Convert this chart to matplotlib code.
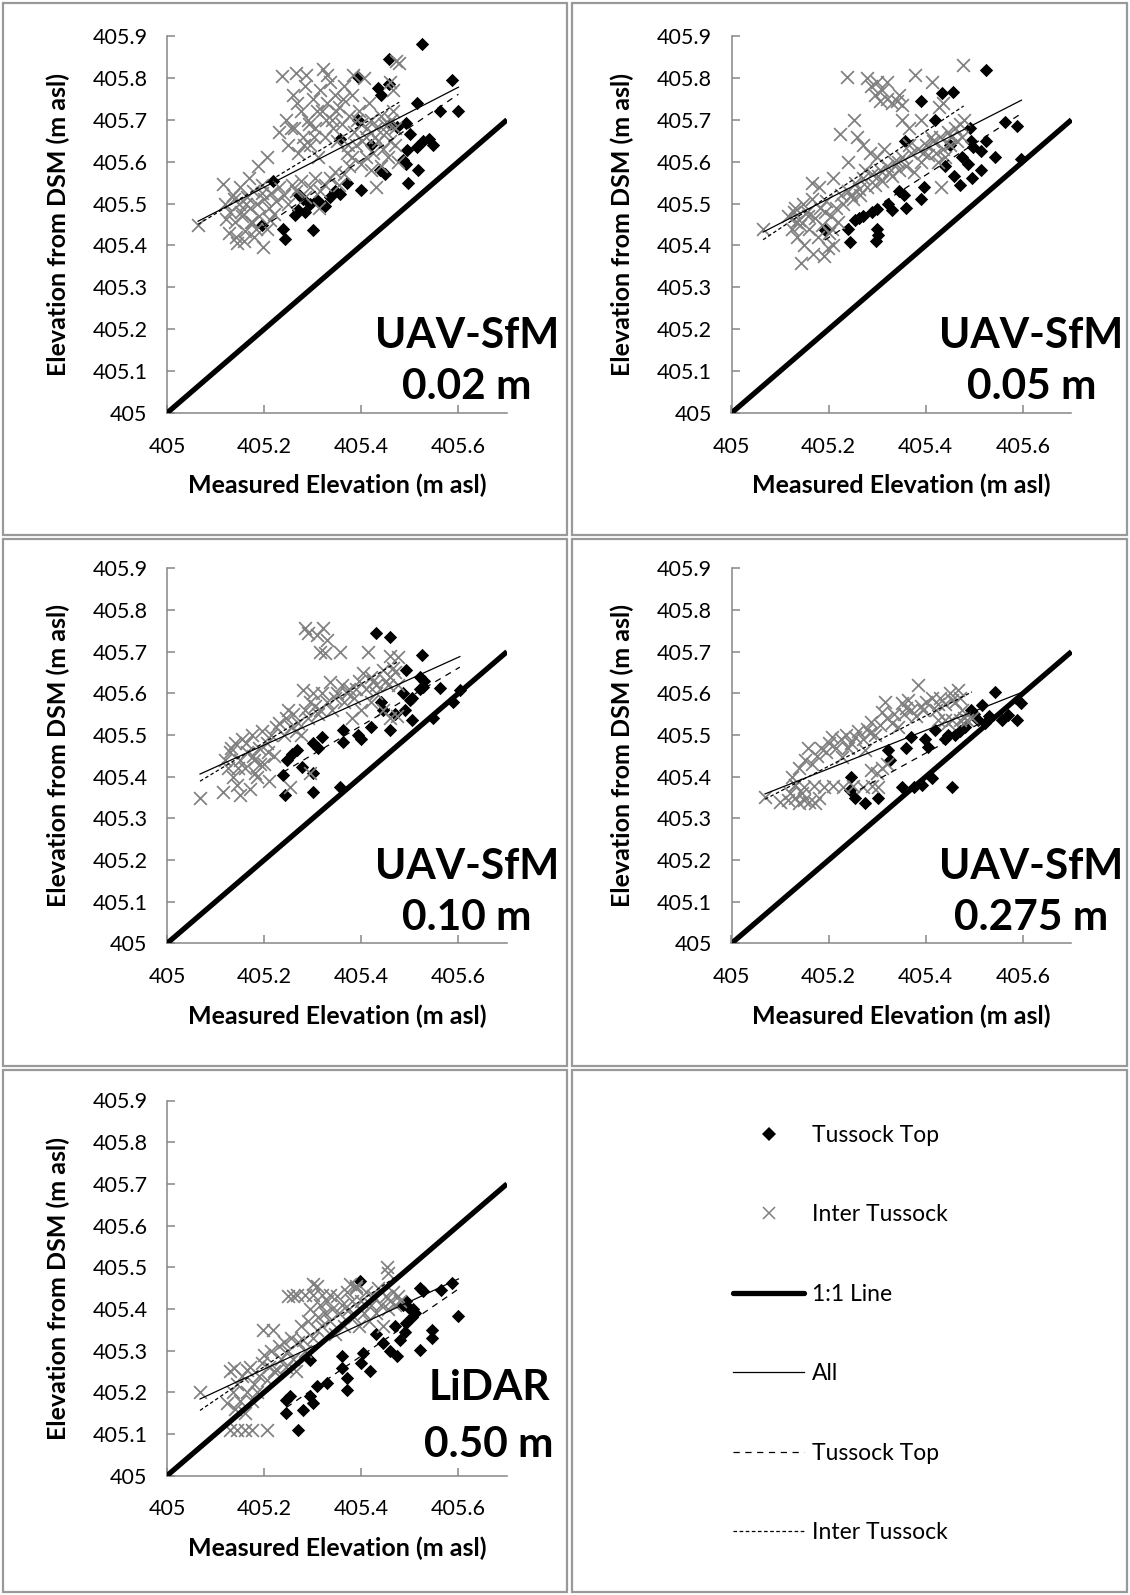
import numpy as np
import matplotlib
matplotlib.use("Agg")
import matplotlib.pyplot as plt
from matplotlib.lines import Line2D
from matplotlib.patches import Rectangle

plt.rcParams["font.family"] = ["Lato", "DejaVu Sans"]
plt.rcParams["lines.scale_dashes"] = False

# ---------------------------------------------------------------- data
# Each panel: tussock-top points (TOP_*) and inter-tussock points (INTER_*),
# measured elevation (x) vs elevation from the DSM (y), m asl.

# UAV-SfM 0.02 m
TOP_002_X = [405.524, 405.457, 405.394, 405.435, 405.440, 405.457, 405.586, 405.514, 405.562, 405.600,
             405.493, 405.473, 405.500, 405.527, 405.540, 405.548, 405.514, 405.495, 405.356, 405.394,
             405.486, 405.493, 405.517, 405.438, 405.449, 405.400, 405.496, 405.370, 405.356, 405.335,
             405.308, 405.318, 405.294, 405.284, 405.270, 405.263, 405.301, 405.239, 405.243, 405.219,
             405.195, 405.270, 405.280, 405.325, 405.345, 405.420, 405.460]
TOP_002_Y = [405.882, 405.844, 405.802, 405.775, 405.760, 405.786, 405.794, 405.740, 405.720, 405.722,
             405.692, 405.683, 405.665, 405.650, 405.655, 405.640, 405.635, 405.628, 405.655, 405.700,
             405.603, 405.595, 405.579, 405.580, 405.570, 405.533, 405.548, 405.550, 405.524, 405.516,
             405.508, 405.500, 405.500, 405.480, 405.484, 405.472, 405.438, 405.440, 405.416, 405.555,
             405.448, 405.524, 405.512, 405.495, 405.530, 405.640, 405.690]
INTER_002_X = [405.064, 405.116, 405.198,
               405.120, 405.130, 405.135, 405.140, 405.142, 405.148, 405.150, 405.155, 405.158, 405.160,
               405.165, 405.170, 405.172, 405.178, 405.180, 405.185, 405.190, 405.195, 405.200, 405.205,
               405.210, 405.215, 405.220, 405.225, 405.145, 405.168, 405.188, 405.205, 405.230, 405.122,
               405.240, 405.250, 405.258, 405.265, 405.275, 405.285, 405.295, 405.305, 405.315, 405.325,
               405.335, 405.345, 405.355, 405.365, 405.375, 405.312,
               405.236, 405.266, 405.287, 405.322, 405.382, 405.330,
               405.230, 405.245, 405.250, 405.260, 405.262, 405.270, 405.275, 405.280, 405.285, 405.290,
               405.295, 405.300, 405.305, 405.310, 405.315, 405.320, 405.325, 405.330, 405.335, 405.340,
               405.345, 405.350, 405.355, 405.360, 405.365, 405.370, 405.375, 405.380, 405.385, 405.390,
               405.395, 405.400, 405.405, 405.410, 405.415, 405.420, 405.425, 405.430, 405.435, 405.440,
               405.445, 405.450, 405.455, 405.460, 405.465, 405.470, 405.475, 405.478, 405.472, 405.460,
               405.465, 405.440, 405.431, 405.420, 405.410, 405.400, 405.380, 405.470, 405.455,
               405.128, 405.152, 405.176, 405.196, 405.212, 405.163, 405.184, 405.138,
               405.255, 405.268, 405.292, 405.308, 405.328, 405.348, 405.362, 405.392, 405.412, 405.428,
               405.446, 405.462, 405.402, 405.372, 405.342, 405.302, 405.282]
INTER_002_Y = [405.448, 405.547, 405.396,
               405.500, 405.480, 405.520, 405.455, 405.420, 405.500, 405.540, 405.470, 405.410, 405.435,
               405.515, 405.490, 405.455, 405.530, 405.420, 405.500, 405.470, 405.545, 405.510, 405.440,
               405.490, 405.525, 405.475, 405.505, 405.405, 405.560, 405.590, 405.610, 405.540, 405.462,
               405.520, 405.500, 405.545, 405.530, 405.555, 405.515, 405.540, 405.560, 405.530, 405.545,
               405.560, 405.575, 405.545, 405.570, 405.590, 405.490,
               405.805, 405.812, 405.808, 405.822, 405.808, 405.808,
               405.670, 405.700, 405.640, 405.760, 405.680, 405.620, 405.720, 405.660, 405.780, 405.700,
               405.640, 405.750, 405.680, 405.610, 405.770, 405.720, 405.660, 405.740, 405.790, 405.700,
               405.760, 405.650, 405.730, 405.690, 405.780, 405.620, 405.710, 405.760, 405.670, 405.640,
               405.720, 405.690, 405.800, 405.660, 405.740, 405.700, 405.620, 405.680, 405.650, 405.710,
               405.630, 405.670, 405.690, 405.650, 405.720, 405.640, 405.600, 405.835, 405.840, 405.790,
               405.770, 405.590, 405.540, 405.580, 405.610, 405.595, 405.610, 405.680, 405.610,
               405.430, 405.480, 405.455, 405.525, 405.460, 405.500, 405.440, 405.510,
               405.680, 405.740, 405.690, 405.720, 405.700, 405.720, 405.750, 405.700, 405.680, 405.660,
               405.690, 405.700, 405.650, 405.640, 405.680, 405.660, 405.640]

# UAV-SfM 0.05 m
TOP_005_X = [405.523, 405.457, 405.433, 405.390, 405.563, 405.587, 405.490, 405.493, 405.524, 405.514,
             405.543, 405.497, 405.597, 405.357, 405.419, 405.440, 405.459, 405.496, 405.486, 405.514,
             405.397, 405.390, 405.356, 405.360, 405.323, 405.330, 405.300, 405.290, 405.270, 405.262,
             405.255, 405.240, 405.243, 405.300, 405.302, 405.298, 405.192, 405.345, 405.470, 405.450,
             405.475]
TOP_005_Y = [405.820, 405.766, 405.764, 405.746, 405.695, 405.684, 405.680, 405.650, 405.650, 405.625,
             405.610, 405.635, 405.607, 405.650, 405.700, 405.590, 405.565, 405.560, 405.595, 405.580,
             405.540, 405.510, 405.520, 405.490, 405.500, 405.484, 405.488, 405.480, 405.470, 405.465,
             405.460, 405.440, 405.408, 405.440, 405.425, 405.410, 405.436, 405.530, 405.545, 405.640,
             405.610]
INTER_005_X = [405.065,
               405.117, 405.125, 405.130, 405.135, 405.140, 405.144, 405.148, 405.150, 405.155, 405.160,
               405.165, 405.168, 405.172, 405.178, 405.182, 405.186, 405.190, 405.195, 405.200, 405.205,
               405.210, 405.215, 405.220, 405.225, 405.165, 405.180, 405.128, 405.198,
               405.230, 405.240, 405.250, 405.255, 405.265, 405.270, 405.280, 405.290, 405.295, 405.305,
               405.310, 405.320, 405.330, 405.335, 405.345, 405.350, 405.360, 405.370, 405.375, 405.385,
               405.390, 405.400, 405.405, 405.415, 405.420, 405.430, 405.435, 405.445, 405.450, 405.460,
               405.465, 405.470, 405.475, 405.478, 405.425, 405.440,
               405.237, 405.280, 405.287, 405.300, 405.320, 405.310, 405.295, 405.305, 405.320, 405.330,
               405.340, 405.350, 405.345, 405.378, 405.412, 405.477, 405.428, 405.435,
               405.223, 405.252, 405.258, 405.270, 405.285, 405.300, 405.315, 405.350, 405.365, 405.390,
               405.432, 405.210, 405.240,
               405.245, 405.262, 405.275, 405.302, 405.325, 405.342, 405.365, 405.395, 405.410, 405.452,
               405.142, 405.158, 405.192, 405.207, 405.133]
INTER_005_Y = [405.440,
               405.470, 405.440, 405.490, 405.420, 405.460, 405.357, 405.500, 405.400, 405.480, 405.440,
               405.510, 405.380, 405.465, 405.420, 405.490, 405.450, 405.375, 405.505, 405.430, 405.470,
               405.400, 405.490, 405.455, 405.520, 405.548, 405.540, 405.480, 405.395,
               405.500, 405.530, 405.510, 405.550, 405.520, 405.560, 405.540, 405.570, 405.545, 405.580,
               405.555, 405.590, 405.565, 405.600, 405.580, 405.610, 405.590, 405.620, 405.575, 405.630,
               405.600, 405.640, 405.615, 405.650, 405.620, 405.660, 405.630, 405.670, 405.640, 405.680,
               405.650, 405.690, 405.660, 405.700, 405.600, 405.610,
               405.802, 405.800, 405.780, 405.790, 405.790, 405.770, 405.760, 405.745, 405.750, 405.740,
               405.745, 405.735, 405.760, 405.808, 405.790, 405.830, 405.730, 405.740,
               405.667, 405.700, 405.660, 405.640, 405.620, 405.610, 405.630, 405.700, 405.680, 405.700,
               405.540, 405.560, 405.600,
               405.520, 405.535, 405.580, 405.565, 405.575, 405.600, 405.640, 405.620, 405.660, 405.660,
               405.450, 405.470, 405.480, 405.440, 405.455]

# UAV-SfM 0.10 m
TOP_010_X = [405.431, 405.459, 405.524, 405.493, 405.520, 405.527, 405.562, 405.486, 405.505, 405.521,
             405.500, 405.490, 405.603, 405.589, 405.548, 405.459, 405.445, 405.470, 405.363, 405.394,
             405.363, 405.320, 405.300, 405.310, 405.267, 405.258, 405.247, 405.277, 405.301, 405.239,
             405.243, 405.301, 405.356, 405.420, 405.400, 405.505, 405.440, 405.530]
TOP_010_Y = [405.744, 405.736, 405.692, 405.656, 405.640, 405.616, 405.612, 405.600, 405.590, 405.610,
             405.584, 405.560, 405.608, 405.580, 405.540, 405.512, 405.560, 405.550, 405.512, 405.500,
             405.484, 405.496, 405.480, 405.470, 405.464, 405.455, 405.440, 405.424, 405.408, 405.404,
             405.356, 405.364, 405.376, 405.520, 405.490, 405.535, 405.580, 405.630]
INTER_010_X = [405.284, 405.322, 405.308, 405.329, 405.315, 405.325, 405.356, 405.290,
               405.414, 405.459, 405.476,
               405.068, 405.116, 405.150, 405.253, 405.294,
               405.120, 405.125, 405.130, 405.135, 405.140, 405.145, 405.150, 405.155, 405.160, 405.165,
               405.170, 405.175, 405.180, 405.185, 405.190, 405.195, 405.200, 405.205, 405.210, 405.215,
               405.220, 405.225, 405.182,
               405.230, 405.240, 405.245, 405.255, 405.260, 405.270, 405.275, 405.280, 405.285, 405.290,
               405.300, 405.305, 405.310, 405.320, 405.330, 405.335, 405.340, 405.350, 405.360, 405.365,
               405.375, 405.385, 405.395, 405.404, 405.410, 405.420, 405.430, 405.445, 405.450, 405.460,
               405.470, 405.445, 405.459, 405.473, 405.420, 405.400, 405.380, 405.430, 405.476,
               405.132, 405.147, 405.162, 405.177, 405.192, 405.207, 405.250, 405.265, 405.295, 405.315,
               405.345, 405.370, 405.390, 405.425, 405.455, 405.465]
INTER_010_Y = [405.756, 405.756, 405.740, 405.728, 405.700, 405.696, 405.700, 405.745,
               405.700, 405.690, 405.688,
               405.348, 405.364, 405.356, 405.376, 405.408,
               405.440, 405.420, 405.460, 405.400, 405.480, 405.380, 405.440, 405.490, 405.420, 405.460,
               405.370, 405.500, 405.440, 405.400, 405.470, 405.510, 405.430, 405.480, 405.390, 405.500,
               405.450, 405.520, 405.410,
               405.530, 405.500, 405.540, 405.520, 405.550, 405.530, 405.500, 405.608, 405.560, 405.540,
               405.600, 405.570, 405.550, 405.600, 405.580, 405.628, 405.560, 405.600, 405.620, 405.580,
               405.610, 405.590, 405.630, 405.648, 405.610, 405.640, 405.620, 405.656, 405.630, 405.640,
               405.650, 405.560, 405.540, 405.545, 405.580, 405.560, 405.540, 405.600, 405.620,
               405.470, 405.420, 405.480, 405.450, 405.430, 405.460, 405.560, 405.510, 405.580, 405.560,
               405.590, 405.600, 405.610, 405.630, 405.620, 405.660]

# UAV-SfM 0.275 m
TOP_0275_X = [405.542, 405.494, 405.515, 405.500, 405.597, 405.587, 405.556, 405.570, 405.508, 405.522,
              405.419, 405.446, 405.460, 405.440, 405.398, 405.405, 405.370, 405.360, 405.323, 405.326,
              405.247, 405.243, 405.255, 405.275, 405.302, 405.350, 405.375, 405.392, 405.412, 405.453,
              405.480, 405.530, 405.470]
TOP_0275_Y = [405.604, 405.560, 405.572, 405.550, 405.576, 405.536, 405.536, 405.548, 405.536, 405.528,
              405.512, 405.500, 405.500, 405.490, 405.490, 405.472, 405.496, 405.468, 405.464, 405.440,
              405.400, 405.368, 405.350, 405.336, 405.348, 405.376, 405.376, 405.380, 405.396, 405.376,
              405.520, 405.545, 405.510]
INTER_0275_X = [405.069, 405.384,
                405.124, 405.130, 405.140, 405.151, 405.158, 405.165, 405.175, 405.185, 405.195, 405.200,
                405.206, 405.215, 405.225, 405.227, 405.235, 405.245, 405.254, 405.260, 405.270, 405.275,
                405.280, 405.288, 405.295, 405.305, 405.316, 405.320, 405.330, 405.343, 405.350, 405.355,
                405.364, 405.370, 405.380, 405.390, 405.400, 405.412, 405.420, 405.430, 405.440, 405.446,
                405.450, 405.460, 405.467, 405.470, 405.475, 405.478,
                405.425, 405.440, 405.455, 405.470, 405.485, 405.495,
                405.130, 405.150, 405.170, 405.190, 405.210, 405.230, 405.250, 405.270, 405.290, 405.302,
                405.288, 405.310, 405.300, 405.320,
                405.117, 405.130, 405.140, 405.150, 405.160, 405.172, 405.180, 405.120, 405.145, 405.100,
                405.335, 405.360, 405.395, 405.425, 405.455, 405.310, 405.285, 405.240]
INTER_0275_Y = [405.352, 405.620,
                405.400, 405.380, 405.420, 405.440, 405.468, 405.430, 405.450, 405.470, 405.460, 405.480,
                405.496, 405.470, 405.490, 405.448, 405.500, 405.480, 405.496, 405.510, 405.490, 405.464,
                405.515, 405.532, 405.500, 405.525, 405.580, 405.540, 405.530, 405.520, 405.576, 405.550,
                405.584, 405.560, 405.545, 405.570, 405.580, 405.588, 405.560, 405.590, 405.575, 405.528,
                405.600, 405.580, 405.608, 405.590, 405.560, 405.540,
                405.535, 405.535, 405.535, 405.535, 405.535, 405.540,
                405.380, 405.375, 405.378, 405.376, 405.378, 405.375, 405.377, 405.376, 405.378, 405.376,
                405.416, 405.420, 405.410, 405.430,
                405.344, 405.350, 405.336, 405.345, 405.340, 405.336, 405.350, 405.360, 405.360, 405.340,
                405.550, 405.565, 405.560, 405.575, 405.585, 405.555, 405.505, 405.470]

# LiDAR 0.50 m
TOP_050_X = [405.397, 405.586, 405.565, 405.520, 405.527, 405.600, 405.493, 405.507, 405.493, 405.505,
             405.545, 405.545, 405.520, 405.459, 405.473, 405.480, 405.445, 405.404, 405.360, 405.360,
             405.400, 405.418, 405.370, 405.370, 405.329, 405.308, 405.294, 405.301, 405.246, 405.253,
             405.280, 405.246, 405.270, 405.294, 405.430, 405.470, 405.500, 405.485, 405.510, 405.490]
TOP_050_Y = [405.466, 405.462, 405.446, 405.450, 405.442, 405.382, 405.420, 405.400, 405.366, 405.380,
             405.350, 405.330, 405.302, 405.300, 405.286, 405.326, 405.318, 405.294, 405.286, 405.258,
             405.270, 405.250, 405.206, 405.234, 405.222, 405.214, 405.190, 405.174, 405.182, 405.190,
             405.158, 405.150, 405.110, 405.278, 405.340, 405.360, 405.400, 405.410, 405.390, 405.345]
INTER_050_X = [405.068,
               405.130, 405.145, 405.160, 405.175, 405.205,
               405.452, 405.455, 405.301, 405.308,
               405.267, 405.285, 405.300, 405.320, 405.335, 405.377, 405.390,
               405.123, 405.130, 405.135, 405.140, 405.145, 405.150, 405.155, 405.160, 405.165, 405.170,
               405.175, 405.180, 405.185, 405.190, 405.195, 405.198, 405.200, 405.205, 405.210, 405.215,
               405.219, 405.220, 405.226, 405.230, 405.235, 405.240, 405.245, 405.250, 405.255, 405.260,
               405.265, 405.270, 405.275, 405.280, 405.285, 405.290, 405.295, 405.300, 405.308, 405.310,
               405.315, 405.320, 405.325, 405.330, 405.335, 405.340, 405.345, 405.350, 405.355, 405.360,
               405.365, 405.370, 405.375, 405.380, 405.385, 405.390, 405.395, 405.400, 405.405, 405.410,
               405.415, 405.420, 405.425, 405.430, 405.435, 405.440, 405.445, 405.450, 405.455, 405.460,
               405.465, 405.470, 405.475, 405.480, 405.137, 405.164, 405.250, 405.260]
INTER_050_Y = [405.200,
               405.110, 405.110, 405.110, 405.110, 405.110,
               405.500, 405.486, 405.460, 405.455,
               405.434, 405.434, 405.434, 405.434, 405.434, 405.460, 405.454,
               405.174, 405.250, 405.200, 405.160, 405.220, 405.180, 405.240, 405.150, 405.200, 405.260,
               405.180, 405.220, 405.200, 405.240, 405.270, 405.350, 405.290, 405.230, 405.260, 405.300,
               405.350, 405.250, 405.254, 405.310, 405.280, 405.320, 405.260, 405.300, 405.330, 405.280,
               405.250, 405.320, 405.360, 405.326, 405.300, 405.370, 405.400, 405.330, 405.350, 405.380,
               405.410, 405.360, 405.390, 405.420, 405.370, 405.400, 405.340, 405.430, 405.390, 405.410,
               405.360, 405.440, 405.400, 405.420, 405.380, 405.450, 405.360, 405.420, 405.390, 405.440,
               405.370, 405.410, 405.430, 405.390, 405.450, 405.410, 405.360, 405.430, 405.400, 405.420,
               405.440, 405.410, 405.430, 405.420, 405.258, 405.254, 405.430, 405.430]

PANEL_TITLES = [("UAV-SfM", "0.02 m"), ("UAV-SfM", "0.05 m"), ("UAV-SfM", "0.10 m"),
                ("UAV-SfM", "0.275 m"), ("LiDAR", "0.50 m")]
PANEL_TOP = [(TOP_002_X, TOP_002_Y), (TOP_005_X, TOP_005_Y), (TOP_010_X, TOP_010_Y),
             (TOP_0275_X, TOP_0275_Y), (TOP_050_X, TOP_050_Y)]
PANEL_INTER = [(INTER_002_X, INTER_002_Y), (INTER_005_X, INTER_005_Y), (INTER_010_X, INTER_010_Y),
               (INTER_0275_X, INTER_0275_Y), (INTER_050_X, INTER_050_Y)]

X_TICKS = [405.0, 405.2, 405.4, 405.6]
X_TICK_LABELS = ["405", "405.2", "405.4", "405.6"]
Y_TICKS = [405.0, 405.1, 405.2, 405.3, 405.4, 405.5, 405.6, 405.7, 405.8, 405.9]
Y_TICK_LABELS = ["405", "405.1", "405.2", "405.3", "405.4", "405.5", "405.6", "405.7", "405.8", "405.9"]
ONE_TO_ONE = [405.0, 405.7]
X_LIMITS = (405.0, 405.7)
Y_LIMITS = (405.0, 405.9)

LEGEND_LABELS = ["Tussock Top", "Inter Tussock", "1:1 Line", "All", "Tussock Top", "Inter Tussock"]

# ---------------------------------------------------------------- layout (pixels)
W, H = 1130, 1595
AX_LEFT = [167, 731.5]
AX_WIDTH = 340
ROW_TOP = [36, 568.3, 1100.5]
ROW_BOTTOM = [413, 943.4, 1475.7]
CELL_X = [(3, 567), (572, 1127)]
CELL_Y = [(3, 535), (539, 1066), (1070, 1592)]
TEXT_POS = [(0.882, 0.172, 0.037)] * 4 + [(0.947, 0.202, 0.05)]

GRAY = "#808080"
AXIS_GRAY = "#868686"
TOP_DASH = (0, (4.5, 4.0))
INTER_DASH = (0, (2.6, 1.8))

fig = plt.figure(figsize=(W / 100, H / 100), dpi=100)

# cell frames
for r in range(3):
    for c in range(2):
        x0, x1 = CELL_X[c]
        y0, y1 = CELL_Y[r]
        fig.add_artist(Rectangle((x0 / W, 1 - y1 / H), (x1 - x0) / W, (y1 - y0) / H,
                                 transform=fig.transFigure, fill=False,
                                 edgecolor="#999999", linewidth=1.6))


def trend(ax, xs, ys, **kw):
    xs = np.asarray(xs)
    ys = np.asarray(ys)
    k, b = np.polyfit(xs, ys, 1)
    xr = np.array([xs.min(), xs.max()])
    ax.plot(xr, k * xr + b, color="black", linewidth=0.9, zorder=5, **kw)


for i in range(5):
    r, c = divmod(i, 2)
    left = AX_LEFT[c] / W
    bottom = 1 - ROW_BOTTOM[r] / H
    height = (ROW_BOTTOM[r] - ROW_TOP[r]) / H
    ax = fig.add_axes([left, bottom, AX_WIDTH / W, height])

    tx, ty = PANEL_TOP[i]
    ix, iy = PANEL_INTER[i]
    ax.scatter(tx, ty, marker="D", s=46, color="black", linewidths=0, zorder=2)
    ax.scatter(ix, iy, marker="x", s=85, color=GRAY, linewidths=1.25, zorder=3)
    ax.plot(ONE_TO_ONE, ONE_TO_ONE, color="black", linewidth=3.8, zorder=4,
            solid_capstyle="butt")

    trend(ax, list(tx) + list(ix), list(ty) + list(iy), linestyle="-")
    trend(ax, tx, ty, linestyle=TOP_DASH)
    trend(ax, ix, iy, linestyle=INTER_DASH)

    ax.set_xlim(*X_LIMITS)
    ax.set_ylim(*Y_LIMITS)
    ax.set_xticks(X_TICKS, X_TICK_LABELS)
    ax.set_yticks(Y_TICKS, Y_TICK_LABELS)
    for s in ("top", "right"):
        ax.spines[s].set_visible(False)
    for s in ("left", "bottom"):
        ax.spines[s].set_color(AXIS_GRAY)
        ax.spines[s].set_linewidth(1.1)
    ax.tick_params(direction="in", length=6, width=1.1, color=AXIS_GRAY,
                   labelsize=15.5, labelcolor="black")
    ax.tick_params(axis="y", pad=14)
    ax.tick_params(axis="x", pad=17)
    ax.set_facecolor("none")

    ax.set_xlabel("Measured Elevation (m asl)", fontsize=18, fontweight="bold")
    ax.set_ylabel("Elevation from DSM (m asl)", fontsize=18, fontweight="bold")
    ax.xaxis.set_label_coords(0.5, -72.5 / (ROW_BOTTOM[r] - ROW_TOP[r]))
    ax.xaxis.label.set_va("center")
    ax.yaxis.set_label_coords(-109 / AX_WIDTH, 0.5)
    ax.yaxis.label.set_va("center")

    xt, b1, b2 = TEXT_POS[i]
    line1, line2 = PANEL_TITLES[i]
    ax.text(xt, b1, line1, transform=ax.transAxes, ha="center", va="baseline",
            fontsize=30.5, fontweight="bold", zorder=6)
    ax.text(xt, b2, line2, transform=ax.transAxes, ha="center", va="baseline",
            fontsize=30.5, fontweight="bold", zorder=6)

# legend cell
handles = [
    Line2D([], [], marker="D", linestyle="none", color="black", markersize=7, markeredgewidth=0),
    Line2D([], [], marker="x", linestyle="none", color=GRAY, markersize=8, markeredgewidth=1.1),
    Line2D([], [], color="black", linewidth=3.8, solid_capstyle="round"),
    Line2D([], [], color="black", linewidth=0.9),
    Line2D([], [], color="black", linewidth=0.9, linestyle=TOP_DASH),
    Line2D([], [], color="black", linewidth=0.9, linestyle=INTER_DASH),
]
fig.legend(handles, LEGEND_LABELS, loc="center left",
           bbox_to_anchor=(733 / W, 1 - 1334 / H), frameon=False,
           fontsize=16.5, handlelength=3.1, handletextpad=0.35,
           labelspacing=2.55, borderpad=0, borderaxespad=0)

fig.savefig("out.png", dpi=100)
